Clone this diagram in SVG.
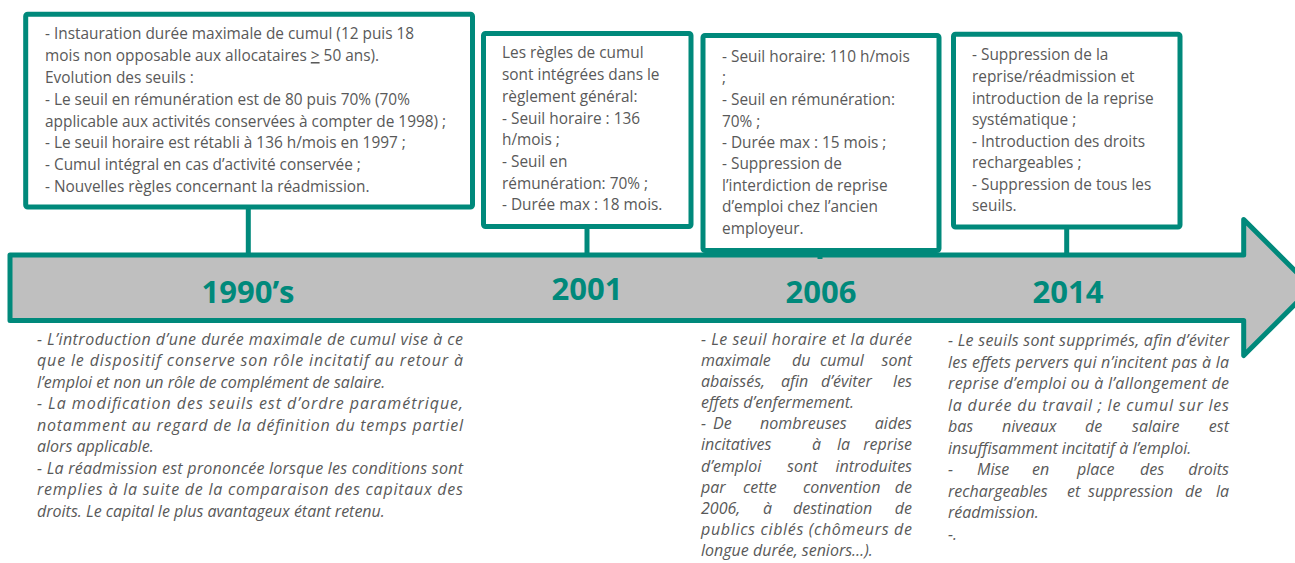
<svg xmlns="http://www.w3.org/2000/svg" width="1295" height="563" viewBox="0 0 1295 563">
<style>
.box{fill:#fff;stroke:#00897B;stroke-width:5;stroke-linejoin:round}
.conn{stroke:#00897B;stroke-width:5;fill:none}
.arrow{fill:#BFBFBF;stroke:#00897B;stroke-width:5;stroke-linejoin:round}
.t{font-family:'Open Sans','Liberation Sans',sans-serif;font-size:15.4px;fill:#595959}
.n{font-family:'Open Sans','Liberation Sans',sans-serif;font-size:16px;font-style:italic;fill:#595959}
.yr{font-family:'Open Sans','Liberation Sans',sans-serif;font-size:31px;font-weight:bold;fill:#00897B;text-anchor:middle}
.e{text-anchor:end}
</style>
<rect width="1295" height="563" fill="#fff"/>
<g id="timeline">
<polygon class="arrow" points="10,255 1243.7,255 1243.7,219.5 1311.7,287.5 1243.7,355.5 1243.7,320.5 10,320.5"/>
<text class="yr" x="248" y="303">1990’s</text>
<text class="yr" x="587" y="300">2001</text>
<text class="yr" x="821" y="303">2006</text>
<text class="yr" x="1068" y="303">2014</text>
</g>
<g id="connectors">
<line class="conn" x1="248.3" y1="207" x2="248.3" y2="257"/>
<line class="conn" x1="587" y1="226" x2="587" y2="257"/>
<line class="conn" x1="820" y1="250" x2="820" y2="259"/>
<line class="conn" x1="1066.7" y1="227" x2="1066.7" y2="257"/>
</g>
<g id="box1990">
<rect class="box" x="25.7" y="14.3" width="446.8" height="192.7" rx="2"/>
<text class="t" x="45" y="39">- Instauration durée maximale de cumul (12 puis 18</text>
<text class="t" x="45" y="61">mois non opposable aux allocataires <tspan text-decoration="underline">&gt;</tspan> 50 ans).</text>
<text class="t" x="45" y="83">Evolution des seuils :</text>
<text class="t" x="45" y="105">- Le seuil en rémunération est de 80 puis 70% (70%</text>
<text class="t" x="45" y="127">applicable aux activités conservées à compter de 1998) ;</text>
<text class="t" x="45" y="148">- Le seuil horaire est rétabli à 136 h/mois en 1997 ;</text>
<text class="t" x="45" y="170">- Cumul intégral en cas d’activité conservée ;</text>
<text class="t" x="45" y="192">- Nouvelles règles concernant la réadmission.</text>
</g>
<g id="box2001">
<rect class="box" x="483.5" y="33.5" width="207.5" height="193" rx="2"/>
<text class="t" x="502" y="58">Les règles de cumul</text>
<text class="t" x="502" y="80">sont intégrées dans le</text>
<text class="t" x="502" y="102">règlement général:</text>
<text class="t" x="502" y="124">- Seuil horaire : 136</text>
<text class="t" x="502" y="145">h/mois ;</text>
<text class="t" x="502" y="167">- Seuil en</text>
<text class="t" x="502" y="189">rémunération: 70% ;</text>
<text class="t" x="502" y="210">- Durée max : 18 mois.</text>
</g>
<g id="box2006">
<rect class="box" x="703" y="35.5" width="236" height="215" rx="2"/>
<text class="t" x="722" y="62">- Seuil horaire: 110 h/mois</text>
<text class="t" x="722" y="83">;</text>
<text class="t" x="722" y="105">- Seuil en rémunération:</text>
<text class="t" x="722" y="127">70% ;</text>
<text class="t" x="722" y="148">- Durée max : 15 mois ;</text>
<text class="t" x="722" y="169">- Suppression de</text>
<text class="t" x="722" y="191">l’interdiction de reprise</text>
<text class="t" x="722" y="212">d’emploi chez l’ancien</text>
<text class="t" x="722" y="234">employeur.</text>
</g>
<g id="box2014">
<rect class="box" x="953.5" y="34.2" width="226.5" height="192.8" rx="2"/>
<text class="t" x="972" y="60">- Suppression de la</text>
<text class="t" x="972" y="82">reprise/réadmission et</text>
<text class="t" x="972" y="104">introduction de la reprise</text>
<text class="t" x="972" y="125">systématique ;</text>
<text class="t" x="972" y="147">- Introduction des droits</text>
<text class="t" x="972" y="168">rechargeables ;</text>
<text class="t" x="972" y="190">- Suppression de tous les</text>
<text class="t" x="972" y="211">seuils.</text>
</g>
<g id="note1990">
<text class="n" x="37" y="344.5" textLength="426" lengthAdjust="spacing">- L’introduction d’une durée maximale de cumul vise à ce</text>
<text class="n" x="37" y="366" textLength="426" lengthAdjust="spacing">que le dispositif conserve son rôle incitatif au retour à</text>
<text class="n" x="37" y="387.5">l’emploi et non un rôle de complément de salaire.</text>
<text class="n" x="37" y="409" textLength="426" lengthAdjust="spacing">- La modification des seuils est d’ordre paramétrique,</text>
<text class="n" x="37" y="430.5" textLength="426" lengthAdjust="spacing">notamment au regard de la définition du temps partiel</text>
<text class="n" x="37" y="452">alors applicable.</text>
<text class="n" x="37" y="473.5" textLength="426" lengthAdjust="spacing">- La réadmission est prononcée lorsque les conditions sont</text>
<text class="n" x="37" y="495" textLength="426" lengthAdjust="spacing">remplies à la suite de la comparaison des capitaux des</text>
<text class="n" x="37" y="516.5">droits. Le capital le plus avantageux étant retenu.</text>
</g>
<g id="note2006">
<text class="n" x="701" y="344.5" textLength="211" lengthAdjust="spacing">- Le seuil horaire et la durée</text>
<text class="n" y="365.5"><tspan x="701">maximale</tspan><tspan x="792">du</tspan><tspan x="820">cumul</tspan><tspan x="912" class="e">sont</tspan></text>
<text class="n" y="386.5"><tspan x="701">abaissés,</tspan><tspan x="781">afin</tspan><tspan x="821">d’éviter</tspan><tspan x="912" class="e">les</tspan></text>
<text class="n" x="701" y="407.5">effets d’enfermement.</text>
<text class="n" y="429"><tspan x="701">-</tspan><tspan x="713">De</tspan><tspan x="760">nombreuses</tspan><tspan x="912" class="e">aides</tspan></text>
<text class="n" y="450"><tspan x="701">incitatives</tspan><tspan x="812">à</tspan><tspan x="837">la</tspan><tspan x="912" class="e">reprise</tspan></text>
<text class="n" y="471.5"><tspan x="701">d’emploi</tspan><tspan x="787">sont</tspan><tspan x="912" class="e">introduites</tspan></text>
<text class="n" y="492.5"><tspan x="701">par</tspan><tspan x="743">cette</tspan><tspan x="803">convention</tspan><tspan x="912" class="e">de</tspan></text>
<text class="n" y="514"><tspan x="701">2006,</tspan><tspan x="763">à</tspan><tspan x="793">destination</tspan><tspan x="912" class="e">de</tspan></text>
<text class="n" x="701" y="535" textLength="211" lengthAdjust="spacing">publics ciblés (chômeurs de</text>
<text class="n" x="701" y="556">longue durée, seniors…).</text>
</g>
<g id="note2014">
<text class="n" x="948" y="346" textLength="281" lengthAdjust="spacing">- Le seuils sont supprimés, afin d’éviter</text>
<text class="n" x="948" y="367.5" textLength="281" lengthAdjust="spacing">les effets pervers qui n’incitent pas à la</text>
<text class="n" x="948" y="389" textLength="281" lengthAdjust="spacing">reprise d’emploi ou à l’allongement de</text>
<text class="n" x="948" y="410.5" textLength="281" lengthAdjust="spacing">la durée du travail ; le cumul sur les</text>
<text class="n" y="432"><tspan x="948">bas</tspan><tspan x="1002">niveaux</tspan><tspan x="1085">de</tspan><tspan x="1132">salaire</tspan><tspan x="1229" class="e">est</tspan></text>
<text class="n" x="948" y="453.5">insuffisamment incitatif à l’emploi.</text>
<text class="n" y="475"><tspan x="948">-</tspan><tspan x="977">Mise</tspan><tspan x="1032">en</tspan><tspan x="1077">place</tspan><tspan x="1140">des</tspan><tspan x="1229" class="e">droits</tspan></text>
<text class="n" y="496.5"><tspan x="948">rechargeables</tspan><tspan x="1067">et</tspan><tspan x="1088">suppression</tspan><tspan x="1185">de</tspan><tspan x="1229" class="e">la</tspan></text>
<text class="n" x="948" y="518">réadmission.</text>
<text class="n" x="948" y="539.5">-.</text>
</g>
</svg>
